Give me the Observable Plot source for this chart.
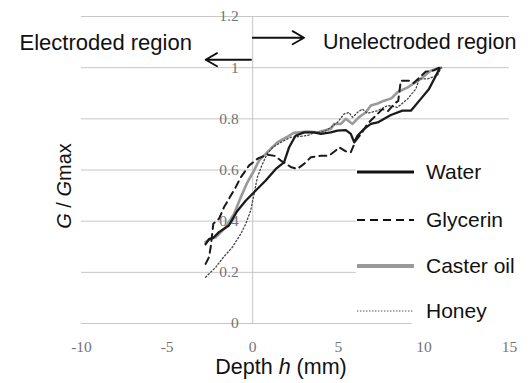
<!DOCTYPE html>
<html>
<head>
<meta charset="utf-8">
<script src="https://cdn.jsdelivr.net/npm/d3@7"></script>
<script src="https://cdn.jsdelivr.net/npm/@observablehq/plot@0.6"></script>
<style>
  html, body { margin: 0; padding: 0; background: #fff; }
  #wrap { position: relative; width: 531px; height: 383px; overflow: hidden; font-family: "Liberation Sans", Arial, sans-serif; color: #111; }
  #wrap svg { position: absolute; left: 0; top: 0; }
  .lab { position: absolute; font-size: 21.5px; white-space: nowrap; line-height: 1; }
  #legend { position: absolute; left: 356px; top: 150px; width: 175px; height: 168px; background: #fff; }
  .row { position: absolute; left: 0; height: 24px; }
  .row svg { position: absolute; left: 0; top: 0; }
  .row span { position: absolute; left: 70px; top: 1px; font-size: 21px; white-space: nowrap; line-height: 1; }
</style>
</head>
<body>
<div id="wrap"></div>
<script>
// ---- data ----
const xTicks = [-10, -5, 0, 5, 10, 15];
const xTickLabels = ["-10", "-5", "0", "5", "10", "15"];
const yTicks = [0, 0.2, 0.4, 0.6, 0.8, 1, 1.2];
const yTickLabels = ["0", "0.2", "0.4", "0.6", "0.8", "1", "1.2"];

const waterX = [-2.75,-2.55,-2.3,-1.97,-1.39,-0.9,-0.41,0.08,0.76,1.35,1.83,2.13,2.5,3.0,3.58,3.98,4.56,4.95,5.44,5.73,5.93,6.12,6.5,6.9,7.3,8.07,8.75,9.24,9.82,10.3,10.6,10.9];
const waterY = [0.31,0.33,0.335,0.357,0.383,0.44,0.48,0.513,0.559,0.604,0.63,0.689,0.734,0.747,0.747,0.741,0.747,0.754,0.756,0.741,0.708,0.734,0.76,0.78,0.786,0.815,0.832,0.832,0.878,0.917,0.956,0.995];

const glycX = [-2.75,-2.55,-2.45,-2.3,-1.97,-1.68,-1.39,-1.0,-0.7,-0.22,0.3,0.86,1.3,1.64,1.93,2.22,2.6,3.0,3.4,3.98,4.46,4.85,5.05,5.44,5.73,6.02,6.4,6.7,7.0,7.58,7.9,8.26,8.5,8.65,9.15,9.4,10.1,10.6,10.9];
const glycY = [0.233,0.26,0.30,0.39,0.409,0.454,0.487,0.532,0.571,0.617,0.645,0.66,0.655,0.637,0.625,0.612,0.604,0.624,0.65,0.656,0.656,0.676,0.689,0.673,0.669,0.715,0.747,0.78,0.8,0.838,0.83,0.858,0.87,0.949,0.949,0.94,0.984,0.99,1.0];

const casterX = [-2.75,-2.5,-2.16,-1.58,-1.09,-0.7,-0.31,0.08,0.37,0.86,1.44,2.03,2.4,3.2,3.78,4.17,4.56,4.76,5.15,5.44,5.83,6.2,6.6,6.9,7.3,7.68,8.1,8.46,9.05,9.53,10.0,10.4,11.0];
const casterY = [0.318,0.33,0.337,0.376,0.428,0.493,0.552,0.598,0.637,0.67,0.708,0.73,0.745,0.75,0.747,0.754,0.76,0.78,0.78,0.8,0.78,0.806,0.825,0.852,0.86,0.871,0.88,0.904,0.923,0.943,0.966,0.988,1.0];

const honeyX = [-2.75,-2.16,-1.7,-1.19,-0.7,-0.41,-0.12,0.08,0.27,0.57,0.86,1.2,1.64,2.22,2.6,3.2,3.58,4.17,4.56,4.95,5.34,5.63,5.83,6.12,6.4,6.7,7.3,7.88,8.46,9.05,9.53,9.73,10.2,10.8,11.0];
const honeyY = [0.181,0.22,0.26,0.298,0.35,0.389,0.441,0.507,0.571,0.624,0.665,0.69,0.708,0.728,0.73,0.735,0.745,0.75,0.767,0.786,0.819,0.825,0.806,0.825,0.838,0.822,0.832,0.852,0.845,0.878,0.917,0.956,0.956,0.97,1.0];

const seriesNames = ["Water", "Glycerin", "Caster oil", "Honey"];

// annotation arrows (data coordinates) and texts
const arrowX1 = [-0.1, 0];
const arrowX2 = [-2.75, 3.0];
const arrowY = [1.031, 1.117];
const leftNote = ["Electroded region"];
const rightNote = ["Unelectroded region"];
const leftNoteX = -3.55, rightNoteX = 4.1, noteYv = 1.098;

// ---- build ----
const pts = (xs, ys) => xs.map((x, i) => ({x, y: ys[i]}));
const styles = {
  "Water":      {stroke: "#1a1a1a", strokeWidth: 2.3},
  "Glycerin":   {stroke: "#1a1a1a", strokeWidth: 2.0, strokeDasharray: "7,5"},
  "Caster oil": {stroke: "#999999", strokeWidth: 2.6},
  "Honey":      {stroke: "#444444", strokeWidth: 1.3, strokeDasharray: "1.4,2.2"}
};
const grid = yTicks.map(v => ({y: v, x2: v === 0 ? 9.3 : 15}));
const arrows = arrowX1.map((x1, i) => ({x1, x2: arrowX2[i], y: arrowY[i]}));

const chart = Plot.plot({
  width: 531, height: 383,
  marginLeft: 81, marginRight: 22, marginTop: 16, marginBottom: 60,
  x: {domain: [-10, 15], axis: null},
  y: {domain: [0, 1.2], axis: null},
  style: {background: "transparent", overflow: "visible"},
  marks: [
    Plot.ruleY(grid, {y: "y", x1: -10, x2: "x2", stroke: "#c6c6c6", strokeWidth: 1}),
    Plot.ruleX([0], {y1: 0, y2: 1.2, stroke: "#c6c6c6", strokeWidth: 1}),
    Plot.text(yTicks, {x: 0, y: d => d, text: (d, i) => yTickLabels[i], dx: -14, textAnchor: "end",
      fontFamily: "Liberation Serif, serif", fontSize: 15.5, fill: "#747474"}),
    Plot.text(xTicks, {x: d => d, y: 0, text: (d, i) => xTickLabels[i], dy: 24,
      fontFamily: "Liberation Serif, serif", fontSize: 15.5, fill: "#747474"}),
    Plot.line(pts(casterX, casterY), {x: "x", y: "y", ...styles["Caster oil"]}),
    Plot.line(pts(honeyX, honeyY), {x: "x", y: "y", ...styles["Honey"]}),
    Plot.line(pts(glycX, glycY), {x: "x", y: "y", ...styles["Glycerin"]}),
    Plot.line(pts(waterX, waterY), {x: "x", y: "y", ...styles["Water"]}),
    Plot.arrow(arrows, {x1: "x1", x2: "x2", y1: "y", y2: "y", stroke: "#111", strokeWidth: 1.8, headLength: 11}),
    Plot.text(leftNote, {x: leftNoteX, y: noteYv, text: d => d, textAnchor: "end", fontSize: 22,
      fontFamily: "Liberation Sans, Arial, sans-serif", fill: "#111"}),
    Plot.text(rightNote, {x: rightNoteX, y: noteYv, text: d => d, textAnchor: "start", fontSize: 21.5,
      fontFamily: "Liberation Sans, Arial, sans-serif", fill: "#111"})
  ]
});

const wrap = document.getElementById("wrap");
wrap.appendChild(chart);

// axis titles
const xt = document.createElement("div");
xt.className = "lab";
xt.innerHTML = "Depth <i>h</i> (mm)";
xt.style.left = "281px"; xt.style.top = "368px";
xt.style.transform = "translate(-50%, -50%)";
wrap.appendChild(xt);

const yt = document.createElement("div");
yt.className = "lab";
yt.style.fontSize = "20px";
yt.innerHTML = "<i>G</i> / <i>G</i>max";
yt.style.left = "64px"; yt.style.top = "186px";
yt.style.transform = "translate(-50%, -50%) rotate(-90deg)";
wrap.appendChild(yt);

// legend
const legend = document.createElement("div");
legend.id = "legend";
const rowTops = [10, 58, 104, 149];
const legendSwatch = {
  "Water":      {stroke: "#111", w: 3.2, dash: ""},
  "Glycerin":   {stroke: "#111", w: 2.0, dash: "8,5"},
  "Caster oil": {stroke: "#999", w: 4.0, dash: ""},
  "Honey":      {stroke: "#555", w: 1.2, dash: "1.4,1.6"}
};
seriesNames.forEach((name, i) => {
  const s = legendSwatch[name];
  const row = document.createElement("div");
  row.className = "row";
  row.style.top = rowTops[i] + "px";
  row.innerHTML = `<svg width="60" height="24"><line x1="1" x2="58" y1="12" y2="12" stroke="${s.stroke}" stroke-width="${s.w}" ${s.dash ? `stroke-dasharray="${s.dash}"` : ""}/></svg><span>${name}</span>`;
  legend.appendChild(row);
});
wrap.appendChild(legend);
</script>
</body>
</html>
